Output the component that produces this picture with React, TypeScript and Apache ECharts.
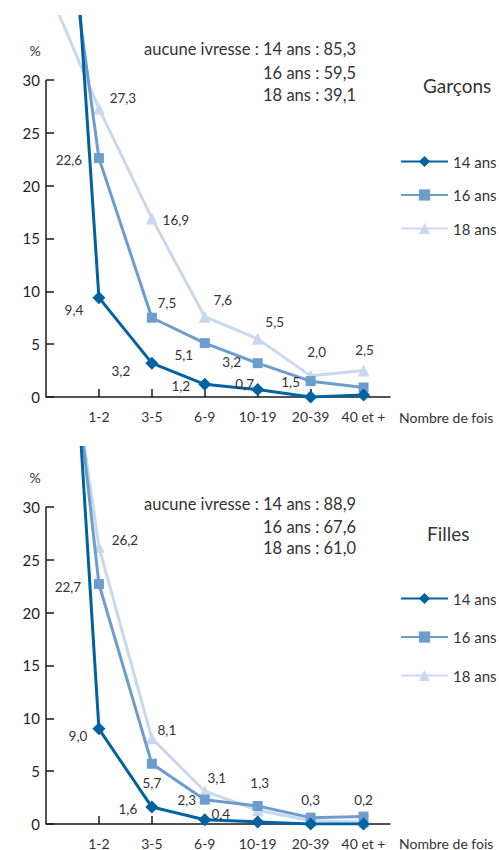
import React, { useEffect, useRef } from "react";
import * as echarts from "echarts";

// ---- Data ----
const categories = ["1-2", "3-5", "6-9", "10-19", "20-39", "40 et +"];
const seriesNames = ["14 ans", "16 ans", "18 ans"];
const yTicks = [0, 5, 10, 15, 20, 25, 30];

// "aucune ivresse" values (plotted at the y axis, x = 0)
const garconsNone = [85.3, 59.5, 39.1];
const fillesNone = [88.9, 67.6, 61.0];

const garcons14 = [9.4, 3.2, 1.2, 0.7, 0.0, 0.2];
const garcons16 = [22.6, 7.5, 5.1, 3.2, 1.5, 0.9];
const garcons18 = [27.3, 16.9, 7.6, 5.5, 2.0, 2.5];

const filles14 = [9.0, 1.6, 0.4, 0.2, 0.0, 0.0];
const filles16 = [22.7, 5.7, 2.3, 1.7, 0.6, 0.7];
const filles18 = [26.2, 8.1, 3.1, 1.3, 0.3, 0.2];

// ---- Label placement (style only) ----
type Off = [number, number] | null;
const garconsLabelOffsets: Off[][] = [
  [[-25, 12], [-31, 8], [-24, 2], [-13, -6], null, null],
  [[-30, 2], [15, -15], [-21, 12], [-26, -1], [-20, 1], null],
  [[24, -10], [24, 2], [18, -17], [17, -17], [6, -24], [1, -21]],
];
const fillesLabelOffsets: Off[][] = [
  [[-21, 7], [-24, 2], [16, -6], null, null, null],
  [[-31, 3], [0, 19], [-18, 0], null, null, null],
  [[26, -7], [15, -8], [12, -13], [2, -27], [0, -21], [0, -22]],
];

const COLORS = ["#0062a1", "#6d9dcf", "#c8d8ed"];
const SYMBOLS = ["diamond", "rect", "triangle"];
const SYMBOL_SIZES = [13, 10, 12];
const FONT = 'Lato, "Open Sans", sans-serif';
const TEXT = "#333333";
const AXIS = "#1a1a1a";

const fmt = (v: number) => v.toFixed(1).replace(".", ",");

function buildSeries(
  gridIndex: number,
  none: number[],
  values: number[][],
  offsets: Off[][]
) {
  // draw 18 first, 14 on top
  const order = [2, 1, 0];
  const out: any[] = order.map((k) => ({
    name: seriesNames[k],
    type: "line",
    xAxisIndex: gridIndex,
    yAxisIndex: gridIndex,
    symbol: SYMBOLS[k],
    symbolSize: SYMBOL_SIZES[k],
    clip: true,
    z: 3 + (2 - k),
    lineStyle: { color: COLORS[k], width: 3 },
    itemStyle: { color: COLORS[k] },
    label: {
      show: false,
      position: "inside",
      color: TEXT,
      fontSize: 13.5,
      fontFamily: FONT,
      formatter: (p: any) => fmt(p.value[1]),
    },
    emphasis: { disabled: true },
    data: [
      { value: [0, none[k]], symbol: "none", label: { show: false } },
      ...values[k].map((v, i) => ({
        value: [i + 1, v],
        label: offsets[k][i]
          ? { show: true, offset: offsets[k][i] }
          : { show: false },
      })),
    ],
  }));
  // y axis line from 0 to 30 only
  out.push({
    type: "line",
    xAxisIndex: gridIndex,
    yAxisIndex: gridIndex,
    data: [],
    silent: true,
    markLine: {
      silent: true,
      symbol: "none",
      label: { show: false },
      lineStyle: { color: AXIS, width: 1.5, type: "solid" },
      data: [[{ coord: [0, 0] }, { coord: [0, 30] }]],
    },
  });
  return out;
}

function makeXAxis(gridIndex: number) {
  return {
    type: "value",
    gridIndex,
    min: 0,
    max: 6.5,
    interval: 1,
    splitLine: { show: false },
    axisLine: { show: true, lineStyle: { color: AXIS, width: 1.5 } },
    axisTick: {
      show: true,
      inside: true,
      length: 8,
      customValues: [1, 2, 3, 4, 5, 6],
      lineStyle: { color: AXIS, width: 1.5 },
    },
    axisLabel: {
      customValues: [1, 2, 3, 4, 5, 6],
      formatter: (v: number) => categories[Math.round(v) - 1] ?? "",
      color: TEXT,
      fontSize: 14,
      fontFamily: FONT,
      margin: 12,
    },
  };
}

function makeYAxis(gridIndex: number, max: number) {
  return {
    type: "value",
    gridIndex,
    min: 0,
    max,
    interval: 5,
    splitLine: { show: false },
    axisLine: { show: false },
    axisTick: {
      show: true,
      inside: true,
      length: 8,
      customValues: yTicks,
      lineStyle: { color: AXIS, width: 1.5 },
    },
    axisLabel: {
      customValues: yTicks,
      color: "#222",
      fontSize: 15,
      fontFamily: FONT,
      margin: 6,
    },
  };
}

function txt(text: string, x: number, y: number, size: number, align = "left") {
  return {
    type: "text",
    x,
    y,
    silent: true,
    style: {
      text,
      fill: TEXT,
      font: `${size}px ${FONT}`,
      align,
      verticalAlign: "middle",
    },
  };
}

function makeLegend(top: number, gap: number) {
  return {
    orient: "vertical",
    left: 395,
    top,
    itemWidth: 47,
    itemHeight: 14,
    itemGap: gap,
    selectedMode: false,
    data: seriesNames,
    textStyle: { color: TEXT, fontSize: 15, fontFamily: FONT },
  };
}

export default function App() {
  const ref = useRef<HTMLDivElement>(null);
  useEffect(() => {
    if (!ref.current) return;
    const chart = echarts.init(ref.current, null, { renderer: "svg" });
    const option: any = {
      animation: false,
      backgroundColor: "#ffffff",
      grid: [
        { left: 46, top: 16.5, width: 344, height: 380.5 },
        { left: 46, top: 447.6, width: 344, height: 377.4 },
      ],
      xAxis: [makeXAxis(0), makeXAxis(1)],
      yAxis: [makeYAxis(0, 36), makeYAxis(1, 35.6)],
      legend: [makeLegend(149, 18.5), makeLegend(586, 23.5)],
      series: [
        ...buildSeries(0, garconsNone, [garcons14, garcons16, garcons18], garconsLabelOffsets),
        ...buildSeries(1, fillesNone, [filles14, filles16, filles18], fillesLabelOffsets),
      ],
      graphic: [
        txt("%", 35, 50, 14, "center"),
        txt(`aucune ivresse : 14 ans : ${fmt(garconsNone[0])}`, 356, 49, 16.5, "right"),
        txt(`16 ans : ${fmt(garconsNone[1])}`, 356, 73, 16.5, "right"),
        txt(`18 ans : ${fmt(garconsNone[2])}`, 356, 95, 16.5, "right"),
        txt("Garçons", 423, 85, 19, "left"),
        txt("Nombre de fois", 399, 417, 14, "left"),
        txt("%", 35, 477, 14, "center"),
        txt(`aucune ivresse : 14 ans : ${fmt(fillesNone[0])}`, 356, 504, 16.5, "right"),
        txt(`16 ans : ${fmt(fillesNone[1])}`, 356, 527, 16.5, "right"),
        txt(`18 ans : ${fmt(fillesNone[2])}`, 356, 548, 16.5, "right"),
        txt("Filles", 427, 533, 19, "left"),
        txt("Nombre de fois", 399, 843, 14, "left"),
      ],
    };
    chart.setOption(option);
    return () => chart.dispose();
  }, []);
  return (
    <div
      ref={ref}
      style={{ position: "absolute", left: 0, top: 0, width: 499, height: 850 }}
    />
  );
}
